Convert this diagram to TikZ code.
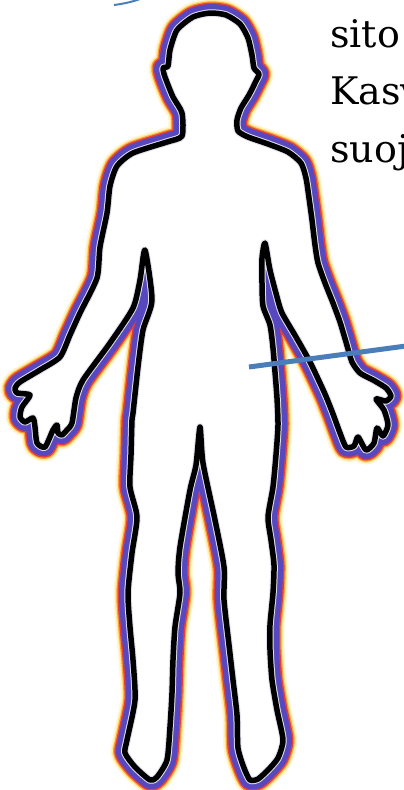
\documentclass[tikz,border=0pt]{standalone}
\usepackage{fontspec}
\newfontfamily\labelfont{DejaVu Serif}
\definecolor{glowyellow}{RGB}{255,232,150}
\definecolor{gloworange}{RGB}{250,160,55}
\definecolor{glowred}{RGB}{228,62,58}
\definecolor{glowpurple}{RGB}{88,72,192}
\definecolor{ringwhite}{RGB}{225,225,238}
\definecolor{pointerblue}{RGB}{74,126,187}
\tikzset{
  outline/.style={line join=round, line cap=round},
  bodytext/.style={font=\labelfont\fontsize{38}{46}\selectfont, anchor=base west, inner sep=0pt},
  pointer/.style={draw=pointerblue, line width=5pt}
}
% closed outline of the figure, traced clockwise from the top of the head
\def\bodyoutline{plot[smooth cycle, tension=0.4] coordinates {
  (210,13) (226,15) (240,24) (248,38) (252,55) (254,68) (259,74) (256,81)
  (249,95) (241,108) (237,120) (238,131) (248,137) (268,144) (288,152)
  (301,163) (306,178) (309,198) (312,220) (315,245) (318,263) (325,283)
  (333,303) (340,322) (346,342) (352,362) (360,373) (373,380) (386,388)
  (391,396) (386,401) (376,399) (384,410) (388,425) (383,436) (377,428)
  (374,443) (366,450) (358,437) (354,446) (346,447) (340,433) (333,414)
  (325,394) (310,362) (296,337) (282,313) (277,297) (270,270) (265,243)
  (262,258) (262,283) (263,306) (270,325) (273,348) (275,372) (277,398)
  (278,425) (276,455) (273,487) (268,517) (271,540) (274,565) (273,593)
  (270,625) (270,650) (272,680) (277,710) (283,740) (278,758) (268,770)
  (258,779) (250,780) (244,768) (238,748) (237,715) (233,680) (229,645)
  (224,600) (224,567) (215,520) (203,463) (200,427)
  (196,465) (190,490) (180,547) (178,573) (180,593) (175,627) (173,660)
  (172,693) (170,727) (167,760) (157,777) (150,780) (135,767) (125,753)
  (127,740) (135,700) (133,660) (130,627) (128,593) (132,553) (137,517)
  (130,487) (131,455) (132,420) (133,413) (138,367) (143,330) (152,300)
  (145,250) (140,280) (133,308) (110,343) (83,380) (76,398) (72,423)
  (67,430) (62,435) (58,433) (57,425) (53,430) (45,447) (37,443) (35,427)
  (33,418) (25,422) (20,417) (22,407) (30,395) (17,393) (15,388) (20,382)
  (40,370) (60,357) (70,335) (80,313) (97,278) (100,247) (107,213)
  (110,186) (117,166) (133,153) (167,142) (182,136) (182,113) (173,97)
  (165,77) (163,68) (168,66) (170,50) (177,30) (193,17)
}}
\begin{document}
\begin{tikzpicture}[x=1pt, y=-1pt]
  \useasboundingbox (0,0) rectangle (404,790);
  \clip (0,0) rectangle (404,790);
  \fill[white] (0,0) rectangle (404,790);

  % coloured halo around the outline, widest and palest first
  \draw[outline, glowyellow!40, line width=29pt] \bodyoutline;
  \draw[outline, glowyellow, line width=26pt] \bodyoutline;
  \draw[outline, gloworange, line width=23.5pt] \bodyoutline;
  \draw[outline, glowred, line width=21pt] \bodyoutline;
  \draw[outline, glowpurple, line width=18pt] \bodyoutline;

  % body interior, then the thin light rim and the black contour
  \fill[white] \bodyoutline;
  \draw[outline, ringwhite, line width=7.5pt] \bodyoutline;
  \draw[outline, black, line width=5.5pt] \bodyoutline;

  % text running off the right edge
  \node[bodytext] (w1) at (330,47) {sito};
  \node[bodytext] (w2) at (330,104) {Kasv};
  \node[bodytext] (w3) at (330,162) {suoj};

  % pointer line crossing the right arm
  \coordinate (p1) at (249,367);
  \coordinate (p2) at (406,346);
  \draw[pointer] (p1) -- (p2);

  % end of a curved arrow at the top edge
  \coordinate (a1) at (114,5);
  \coordinate (a2) at (140,-1);
  \draw[draw=pointerblue, line width=2pt] (a1) .. controls (122,4) and (132,2) .. (a2);
\end{tikzpicture}
\end{document}
